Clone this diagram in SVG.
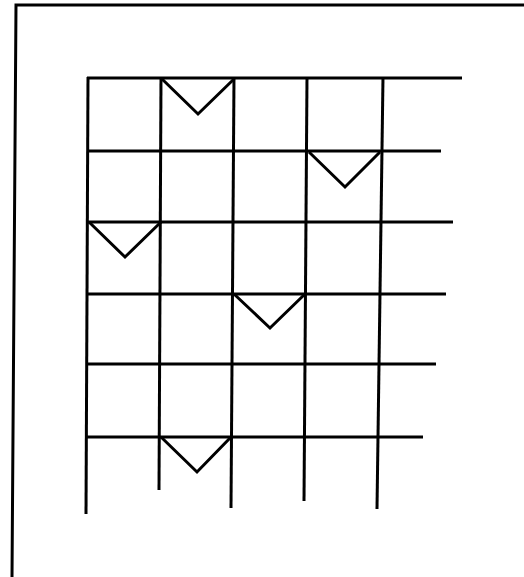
<svg xmlns="http://www.w3.org/2000/svg" width="524" height="577" viewBox="0 0 524 577">
<style>
line,polyline{stroke:#000;stroke-width:3;fill:none;stroke-linecap:butt}
.v{stroke-linejoin:miter}
</style>
<rect width="524" height="577" fill="#fff"/>
<g id="frame">
<polyline points="524,5 16,5 12,577"/>
</g>
<g id="grid">
<line x1="87" y1="78" x2="462" y2="78"/>
<line x1="87" y1="151" x2="441" y2="151"/>
<line x1="87" y1="222" x2="453" y2="222"/>
<line x1="87" y1="294" x2="446" y2="294"/>
<line x1="87" y1="364" x2="436" y2="364"/>
<line x1="87" y1="437" x2="423" y2="437"/>
<line x1="88" y1="77" x2="86" y2="514"/>
<line x1="161" y1="77" x2="159" y2="490"/>
<line x1="234" y1="77" x2="231" y2="508"/>
<line x1="307" y1="77" x2="304" y2="501"/>
<line x1="383" y1="77" x2="377" y2="509"/>
</g>
<g id="marks">
<polyline class="v" points="162,79 198,114 234,79"/>
<polyline class="v" points="309,152 345,187 380,152"/>
<polyline class="v" points="89,222 125,257 161,222"/>
<polyline class="v" points="234,294 270,328 305,294"/>
<polyline class="v" points="161,437 197,472 231,437"/>
</g>
</svg>
